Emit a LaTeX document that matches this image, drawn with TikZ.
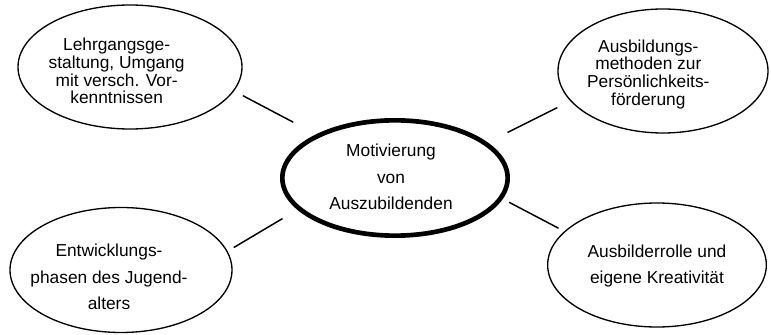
\documentclass[tikz,border=0pt]{standalone}
\usepackage{fontspec}
\setmainfont{Liberation Sans}
\usetikzlibrary{positioning,shapes.geometric}
\newcommand{\ovaltext}[3]{\raisebox{#2}[\height][\depth]{\makebox[0pt]{\kern#1\begin{tabular}{@{}c@{}}#3\end{tabular}}}}

\begin{document}
\begin{tikzpicture}[
oval/.style={
draw,
ellipse,
line width=1pt,
inner sep=0pt,
minimum width=166pt,
minimum height=93pt
},
tight/.style={font=\fontsize{13}{12.75}\selectfont},
loose/.style={font=\fontsize{13}{20}\selectfont},
link/.style={line width=1.1pt},
on grid
]
\useasboundingbox (-296.25pt,-117.75pt) rectangle (282pt,133.5pt);

\node[oval, loose, line width=3.5pt, minimum width=169pt, minimum height=86.5pt] (motiv) {\ovaltext{-6pt}{0pt}{Motivierung\\von\\Auszubildenden}};
\node[oval, tight, minimum width=168pt, above left=83.25pt and 198.75pt of motiv] (lehr) {\ovaltext{-20pt}{-5pt}{Lehrgangsge-\\staltung, Umgang\\mit versch. Vor-\\kenntnissen}};
\node[oval, tight, minimum width=157.5pt, above right=80.25pt and 201pt of motiv] (ausb) {\ovaltext{-22pt}{-3pt}{Ausbildungs-\\methoden zur\\Persönlichkeits-\\förderung}};
\node[oval, loose, minimum width=166.5pt, minimum height=93.75pt, below left=69pt and 205.5pt of motiv] (entw) {\ovaltext{-18pt}{-6pt}{Entwicklungs-\\phasen des Jugend-\\alters}};
\node[oval, loose, minimum width=164pt, below right=65.25pt and 196.5pt of motiv] (rolle) {\ovaltext{0pt}{0pt}{Ausbilderrolle und\\eigene Kreativität}};

% connectors, with gaps at both ends
\draw[link, shorten <=19.5pt, shorten >=7.5pt] (motiv.151) -- (lehr.-13);
\draw[link, shorten <=16.7pt, shorten >=11pt] (motiv.21.5) -- (ausb.-162);
\draw[link, shorten <=13pt, shorten >=5.4pt] (motiv.198.5) -- (entw.10.6);
\draw[link, shorten <=5.4pt, shorten >=4.9pt] (motiv.-11.8) -- (rolle.160.9);

\end{tikzpicture}
\end{document}
